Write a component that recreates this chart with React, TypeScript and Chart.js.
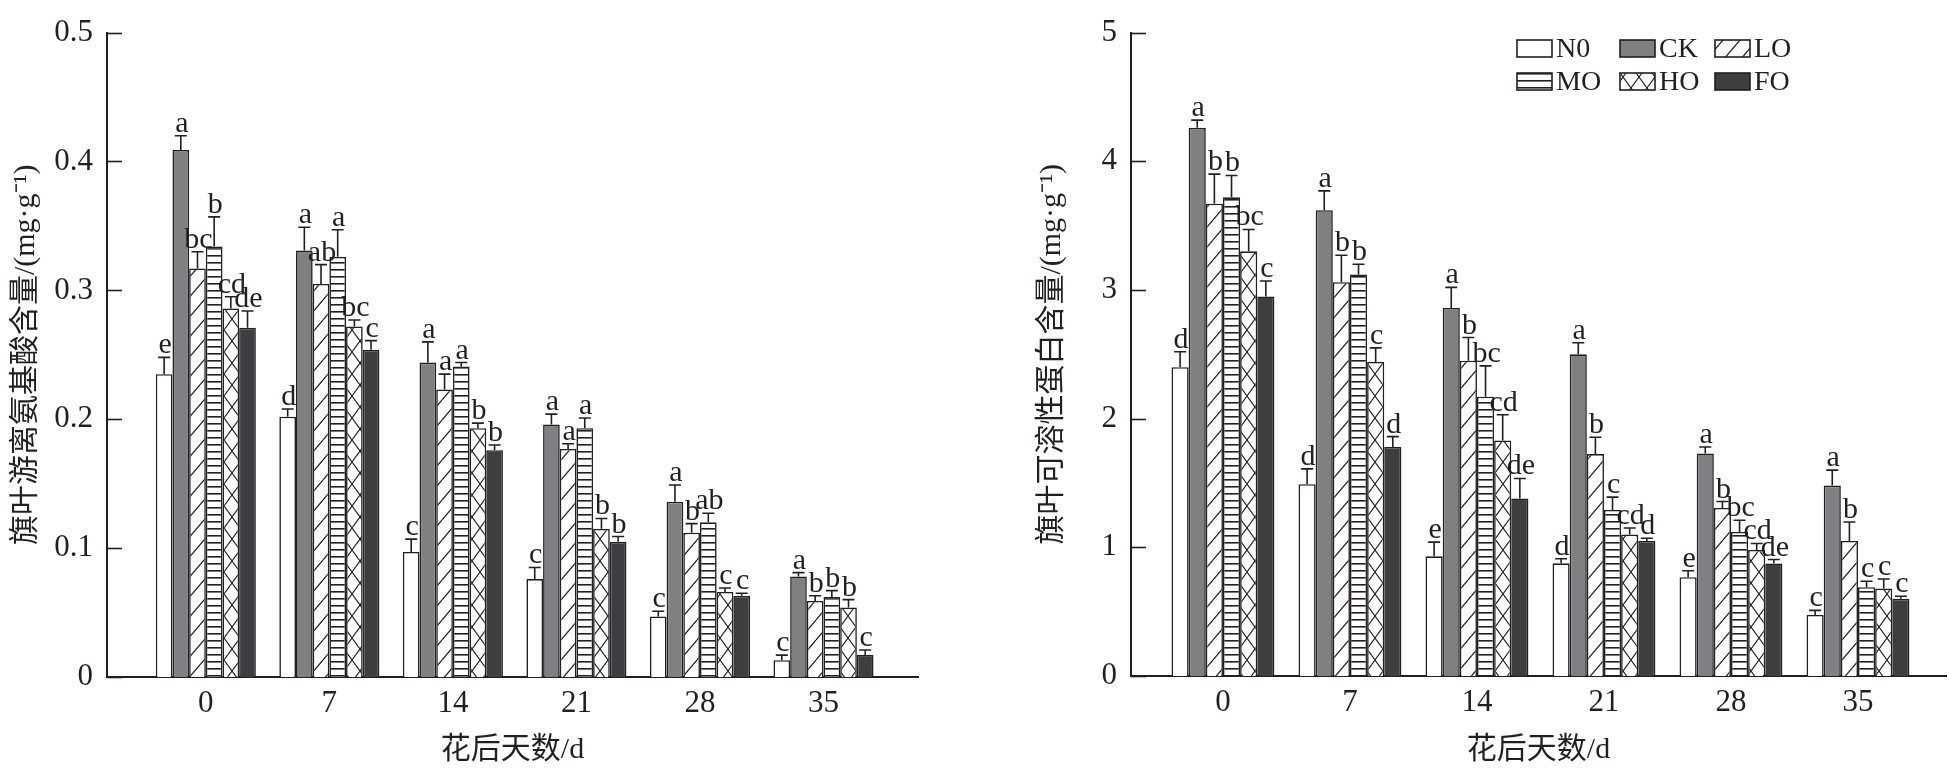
import { useEffect, useRef } from "react";
import { Chart, registerables } from "chart.js";

Chart.register(...registerables);

// x categories (days after anthesis) and treatments
const days = ["0", "7", "14", "21", "28", "35"];
const treatments = ["N0", "CK", "LO", "MO", "HO", "FO"];

// free amino acid content in flag leaf, mg/g
const aminoN0 = [0.235, 0.202, 0.097, 0.076, 0.047, 0.013];
const aminoCK = [0.409, 0.331, 0.244, 0.196, 0.136, 0.078];
const aminoLO = [0.317, 0.305, 0.223, 0.177, 0.112, 0.059];
const aminoMO = [0.334, 0.326, 0.241, 0.193, 0.12, 0.062];
const aminoHO = [0.286, 0.272, 0.193, 0.115, 0.066, 0.054];
const aminoFO = [0.271, 0.254, 0.176, 0.105, 0.063, 0.017];

const aminoN0Err = [0.013, 0.006, 0.01, 0.009, 0.004, 0.004];
const aminoCKErr = [0.011, 0.018, 0.016, 0.008, 0.013, 0.003];
const aminoLOErr = [0.013, 0.015, 0.012, 0.004, 0.007, 0.004];
const aminoMOErr = [0.023, 0.021, 0.003, 0.008, 0.007, 0.005];
const aminoHOErr = [0.009, 0.005, 0.004, 0.008, 0.003, 0.006];
const aminoFOErr = [0.013, 0.007, 0.004, 0.004, 0.002, 0.004];

const aminoN0Sig = ["e", "d", "c", "c", "c", "c"];
const aminoCKSig = ["a", "a", "a", "a", "a", "a"];
const aminoLOSig = ["bc", "ab", "a", "a", "b", "b"];
const aminoMOSig = ["b", "a", "a", "a", "ab", "b"];
const aminoHOSig = ["cd", "bc", "b", "b", "c", "b"];
const aminoFOSig = ["de", "c", "b", "b", "c", "c"];

// soluble protein content in flag leaf, mg/g
const proteinN0 = [2.4, 1.49, 0.93, 0.876, 0.768, 0.475];
const proteinCK = [4.26, 3.62, 2.86, 2.5, 1.73, 1.48];
const proteinLO = [3.67, 3.06, 2.45, 1.725, 1.306, 1.05];
const proteinMO = [3.72, 3.12, 2.17, 1.29, 1.12, 0.69];
const proteinHO = [3.3, 2.44, 1.83, 1.1, 0.98, 0.68];
const proteinFO = [2.95, 1.78, 1.38, 1.05, 0.875, 0.6];

const proteinN0Err = [0.12, 0.12, 0.11, 0.035, 0.05, 0.035];
const proteinCKErr = [0.06, 0.15, 0.16, 0.09, 0.05, 0.12];
const proteinLOErr = [0.23, 0.21, 0.18, 0.13, 0.05, 0.147];
const proteinMOErr = [0.17, 0.08, 0.24, 0.1, 0.09, 0.046];
const proteinHOErr = [0.17, 0.11, 0.2, 0.05, 0.05, 0.074];
const proteinFOErr = [0.12, 0.08, 0.155, 0.02, 0.03, 0.02];

const proteinN0Sig = ["d", "d", "e", "d", "e", "c"];
const proteinCKSig = ["a", "a", "a", "a", "a", "a"];
const proteinLOSig = ["b", "b", "b", "b", "b", "b"];
const proteinMOSig = ["b", "b", "bc", "c", "bc", "c"];
const proteinHOSig = ["bc", "c", "cd", "cd", "cd", "c"];
const proteinFOSig = ["c", "d", "de", "d", "de", "c"];

const INK = "#231f20";
const LATIN = "'Liberation Serif', 'Times New Roman', serif";
const MIXED = "'Liberation Serif', 'Noto Sans CJK SC', serif";

function tile(w: number, h: number, draw: (c: CanvasRenderingContext2D) => void) {
  const cv = document.createElement("canvas");
  cv.width = w;
  cv.height = h;
  const c = cv.getContext("2d") as CanvasRenderingContext2D;
  c.fillStyle = "#ffffff";
  c.fillRect(0, 0, w, h);
  c.strokeStyle = INK;
  c.fillStyle = INK;
  draw(c);
  const ctx = document.createElement("canvas").getContext("2d") as CanvasRenderingContext2D;
  return ctx.createPattern(cv, "repeat") as CanvasPattern;
}

function makeFills() {
  const diag = tile(17, 20, (c) => {
    c.lineWidth = 1.2;
    for (const dx of [-17, 0, 17]) {
      c.beginPath();
      c.moveTo(dx, 20);
      c.lineTo(dx + 17, 0);
      c.stroke();
    }
  });
  const horiz = tile(8, 7, (c) => {
    c.fillRect(0, 3, 8, 1.6);
  });
  const cross = tile(16, 22, (c) => {
    c.lineWidth = 1.1;
    for (const k of [-1, 0, 1]) {
      c.beginPath();
      c.moveTo(k * 16, k * 22);
      c.lineTo(k * 16 + 16, k * 22 + 22);
      c.stroke();
      c.beginPath();
      c.moveTo(16 - k * 16, k * 22);
      c.lineTo(-k * 16, k * 22 + 22);
      c.stroke();
    }
  });
  return ["#ffffff", "#808083", diag, horiz, cross, "#3e3e40"];
}

function annotate(errs: number[][], sigs: string[][]) {
  return {
    id: "errorsAndLetters",
    afterDatasetsDraw(chart: any) {
      const { ctx, scales } = chart;
      const y = scales.y;
      ctx.save();
      ctx.strokeStyle = INK;
      ctx.lineWidth = 1.6;
      ctx.fillStyle = INK;
      ctx.font = `30px ${LATIN}`;
      ctx.textAlign = "center";
      ctx.textBaseline = "alphabetic";
      chart.data.datasets.forEach((ds: any, i: number) => {
        const meta = chart.getDatasetMeta(i);
        meta.data.forEach((bar: any, j: number) => {
          const v = ds.data[j].y;
          const top = y.getPixelForValue(v + errs[i][j]);
          ctx.beginPath();
          ctx.moveTo(bar.x, bar.y);
          ctx.lineTo(bar.x, top);
          ctx.moveTo(bar.x - 6, top);
          ctx.lineTo(bar.x + 6, top);
          ctx.stroke();
          ctx.fillText(sigs[i][j], bar.x + 1, top - 4);
        });
      });
      ctx.restore();
    },
  };
}

const inwardTicks = {
  id: "inwardTicks",
  afterDraw(chart: any) {
    const { ctx, chartArea } = chart;
    const y = chart.scales.y;
    ctx.save();
    ctx.strokeStyle = INK;
    ctx.lineWidth = 1.6;
    y.ticks.forEach((t: any) => {
      const py = Math.round(y.getPixelForValue(t.value)) + 0.5;
      ctx.beginPath();
      ctx.moveTo(chartArea.left, py);
      ctx.lineTo(chartArea.left + 15, py);
      ctx.stroke();
    });
    ctx.restore();
  },
};

const boxLegend = {
  id: "boxLegend",
  afterDraw(chart: any) {
    const { ctx } = chart;
    const cols = [542, 645, 740];
    const rows = [40, 73];
    ctx.save();
    ctx.font = `28px ${LATIN}`;
    ctx.textBaseline = "middle";
    ctx.textAlign = "left";
    chart.data.datasets.forEach((ds: any, i: number) => {
      const bx = cols[i % 3];
      const by = rows[Math.floor(i / 3)];
      ctx.fillStyle = ds.backgroundColor;
      ctx.fillRect(bx, by, 35, 17);
      ctx.strokeStyle = INK;
      ctx.lineWidth = 1.6;
      ctx.strokeRect(bx, by, 35, 17);
      ctx.fillStyle = INK;
      ctx.fillText(ds.label, bx + 39, by + 10);
    });
    ctx.restore();
  },
};

interface PanelProps {
  series: number[][];
  errs: number[][];
  sigs: string[][];
  width: number;
  yMax: number;
  yStep: number;
  yTitle: string;
  titlePad: number;
  axisLeft: number;
  padTop: number;
  padRight: number;
  xHeight: number;
  xMin: number;
  xMax: number;
  legend: boolean;
}

function Panel(p: PanelProps) {
  const ref = useRef<HTMLCanvasElement>(null);
  useEffect(() => {
    if (!ref.current) return;
    const fills = makeFills();
    const datasets = treatments.map((name, i) => ({
      label: name,
      data: p.series[i].map((v, j) => ({ x: j, y: v })),
      backgroundColor: fills[i],
      borderColor: INK,
      borderWidth: 1.6,
      categoryPercentage: 0.81,
      barPercentage: 1,
    }));
    const plugins: any[] = [annotate(p.errs, p.sigs), inwardTicks];
    if (p.legend) plugins.push(boxLegend);
    const chart = new Chart(ref.current, {
      type: "bar",
      data: { datasets },
      options: {
        responsive: false,
        animation: false,
        devicePixelRatio: 1,
        events: [],
        layout: { padding: { left: 0, top: p.padTop, right: p.padRight, bottom: 0 } },
        plugins: { legend: { display: false }, tooltip: { enabled: false } },
        scales: {
          x: {
            type: "linear",
            offset: false,
            min: p.xMin,
            max: p.xMax,
            grid: { display: false, drawTicks: false },
            border: { display: true, color: INK, width: 2 },
            afterBuildTicks: (s: any) => {
              s.ticks = days.map((_, i) => ({ value: i }));
            },
            afterFit: (s: any) => {
              s.height = p.xHeight;
            },
            ticks: {
              padding: 8,
              color: INK,
              font: { family: LATIN, size: 31 },
              callback: (v: any) => days[Math.round(Number(v))],
            },
            title: {
              display: true,
              text: "花后天数/d",
              color: INK,
              font: { family: MIXED, size: 30 },
              padding: { top: 0, bottom: 7 },
            },
          },
          y: {
            min: 0,
            max: p.yMax,
            grid: { display: false, drawTicks: false },
            border: { display: true, color: INK, width: 2 },
            afterFit: (s: any) => {
              s.width = p.axisLeft;
            },
            ticks: {
              stepSize: p.yStep,
              padding: 14,
              color: INK,
              font: { family: LATIN, size: 31 },
            },
            title: {
              display: true,
              text: p.yTitle,
              color: INK,
              font: { family: MIXED, size: 30 },
              padding: { top: p.titlePad, bottom: 0 },
            },
          },
        },
      },
      plugins,
    });
    return () => {
      chart.destroy();
    };
  }, [p]);
  return <canvas ref={ref} width={p.width} height={775} style={{ display: "block" }} />;
}

const aminoProps: PanelProps = {
  series: [aminoN0, aminoCK, aminoLO, aminoMO, aminoHO, aminoFO],
  errs: [aminoN0Err, aminoCKErr, aminoLOErr, aminoMOErr, aminoHOErr, aminoFOErr],
  sigs: [aminoN0Sig, aminoCKSig, aminoLOSig, aminoMOSig, aminoHOSig, aminoFOSig],
  width: 975,
  yMax: 0.5,
  yStep: 0.1,
  yTitle: "旗叶游离氨基酸含量/(mg·g⁻¹)",
  titlePad: 8,
  axisLeft: 107,
  padTop: 21,
  padRight: 57,
  xHeight: 98,
  xMin: -0.8,
  xMax: 5.765,
  legend: false,
};

const proteinProps: PanelProps = {
  series: [proteinN0, proteinCK, proteinLO, proteinMO, proteinHO, proteinFO],
  errs: [proteinN0Err, proteinCKErr, proteinLOErr, proteinMOErr, proteinHOErr, proteinFOErr],
  sigs: [proteinN0Sig, proteinCKSig, proteinLOSig, proteinMOSig, proteinHOSig, proteinFOSig],
  width: 974,
  yMax: 5,
  yStep: 1,
  yTitle: "旗叶可溶性蛋白含量/(mg·g⁻¹)",
  titlePad: 59,
  axisLeft: 156,
  padTop: 19,
  padRight: 3,
  xHeight: 99,
  xMin: -0.724,
  xMax: 5.693,
  legend: true,
};

export default function App() {
  return (
    <div style={{ position: "absolute", left: 0, top: 0, width: 1949, height: 775, background: "#ffffff", display: "flex" }}>
      <Panel {...aminoProps} />
      <Panel {...proteinProps} />
    </div>
  );
}
